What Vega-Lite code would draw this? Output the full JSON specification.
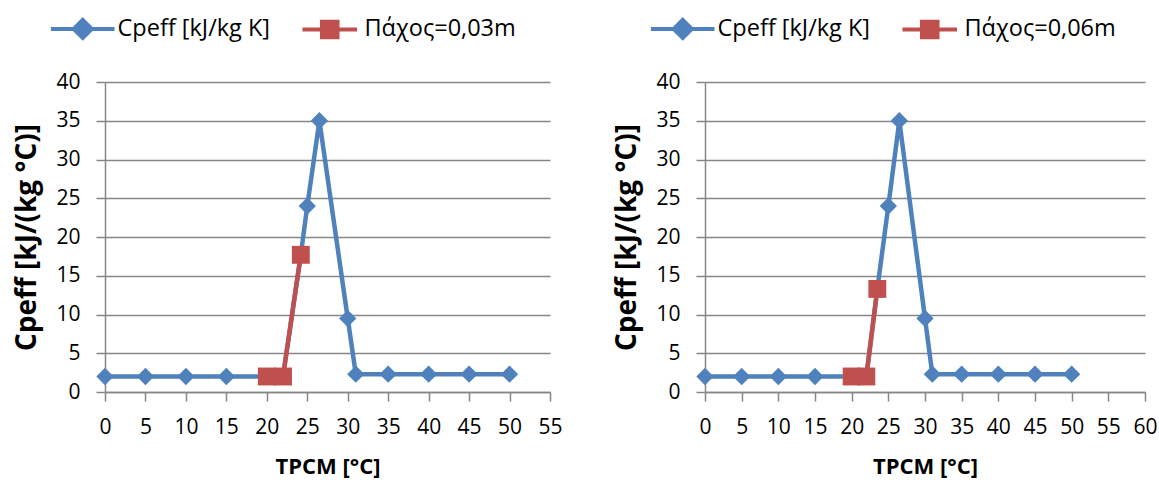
{
  "$schema": "https://vega.github.io/schema/vega-lite/v6.json",
  "background": "white",
  "padding": {"left": 13, "top": 17, "right": 2, "bottom": 5},
  "config": {
    "font": "Open Sans",
    "view": {"stroke": null},
    "axis": {"domainColor": "#868686", "domainWidth": 1.5, "tickColor": "#868686", "tickWidth": 1.5, "gridColor": "#868686", "gridWidth": 1.5, "labelColor": "#000", "labelFontSize": 21, "labelFont": "Open Sans", "labelOverlap": false, "labelFlush": false, "titleFont": "Open Sans", "titleFontWeight": "bold", "titleColor": "#000"},
    "axisX": {"grid": false, "tickSize": 9, "labelPadding": 15, "titlePadding": 19, "titleFontSize": 22},
    "axisY": {"tickSize": 9, "labelPadding": 16, "titlePadding": 14, "titleFontSize": 28}
  },
  "datasets": {
    "a": [
      {"series": "Cpeff [kJ/kg K]", "T": 0, "C": 2.0},
      {"series": "Cpeff [kJ/kg K]", "T": 5, "C": 2.0},
      {"series": "Cpeff [kJ/kg K]", "T": 10, "C": 2.0},
      {"series": "Cpeff [kJ/kg K]", "T": 15, "C": 2.0},
      {"series": "Cpeff [kJ/kg K]", "T": 20, "C": 2.0},
      {"series": "Cpeff [kJ/kg K]", "T": 22, "C": 2.0},
      {"series": "Cpeff [kJ/kg K]", "T": 24.2, "C": 17.7},
      {"series": "Cpeff [kJ/kg K]", "T": 25, "C": 24.0},
      {"series": "Cpeff [kJ/kg K]", "T": 26.5, "C": 35.0},
      {"series": "Cpeff [kJ/kg K]", "T": 30, "C": 9.5},
      {"series": "Cpeff [kJ/kg K]", "T": 31, "C": 2.3},
      {"series": "Cpeff [kJ/kg K]", "T": 35, "C": 2.3},
      {"series": "Cpeff [kJ/kg K]", "T": 40, "C": 2.3},
      {"series": "Cpeff [kJ/kg K]", "T": 45, "C": 2.3},
      {"series": "Cpeff [kJ/kg K]", "T": 50, "C": 2.3},
      {"series": "Πάχος=0,03m", "T": 20, "C": 2.0},
      {"series": "Πάχος=0,03m", "T": 22, "C": 2.0},
      {"series": "Πάχος=0,03m", "T": 24.2, "C": 17.7}
    ],
    "b": [
      {"series": "Cpeff [kJ/kg K]", "T": 0, "C": 2.0},
      {"series": "Cpeff [kJ/kg K]", "T": 5, "C": 2.0},
      {"series": "Cpeff [kJ/kg K]", "T": 10, "C": 2.0},
      {"series": "Cpeff [kJ/kg K]", "T": 15, "C": 2.0},
      {"series": "Cpeff [kJ/kg K]", "T": 20, "C": 2.0},
      {"series": "Cpeff [kJ/kg K]", "T": 22, "C": 2.0},
      {"series": "Cpeff [kJ/kg K]", "T": 23.5, "C": 13.3},
      {"series": "Cpeff [kJ/kg K]", "T": 25, "C": 24.0},
      {"series": "Cpeff [kJ/kg K]", "T": 26.5, "C": 35.0},
      {"series": "Cpeff [kJ/kg K]", "T": 30, "C": 9.5},
      {"series": "Cpeff [kJ/kg K]", "T": 31, "C": 2.3},
      {"series": "Cpeff [kJ/kg K]", "T": 35, "C": 2.3},
      {"series": "Cpeff [kJ/kg K]", "T": 40, "C": 2.3},
      {"series": "Cpeff [kJ/kg K]", "T": 45, "C": 2.3},
      {"series": "Cpeff [kJ/kg K]", "T": 50, "C": 2.3},
      {"series": "Πάχος=0,06m", "T": 20, "C": 2.0},
      {"series": "Πάχος=0,06m", "T": 22, "C": 2.0},
      {"series": "Πάχος=0,06m", "T": 23.5, "C": 13.3}
    ]
  },
  "bounds": "flush",
  "spacing": 155,
  "hconcat": [
    {
      "width": 445,
      "height": 310,
      "data": {"name": "a"},
      "encoding": {
        "x": {"field": "T", "type": "quantitative", "scale": {"domain": [0, 55], "nice": false}, "axis": {"values": [0, 5, 10, 15, 20, 25, 30, 35, 40, 45, 50, 55], "title": "TPCM [°C]"}},
        "y": {"field": "C", "type": "quantitative", "scale": {"domain": [0, 40], "nice": false}, "axis": {"values": [0, 5, 10, 15, 20, 25, 30, 35, 40], "title": "Cpeff [kJ/(kg °C)]"}}
      },
      "layer": [
        {
          "mark": {"type": "line", "strokeWidth": 4.5},
          "encoding": {
            "color": {"field": "series", "type": "nominal", "scale": {"domain": ["Cpeff [kJ/kg K]", "Πάχος=0,03m"], "range": ["#4F81BD", "#C0504D"]},
              "legend": {"orient": "none", "legendX": -57, "legendY": -65, "direction": "horizontal", "title": null, "labelFontSize": 23.5, "labelFont": "Open Sans", "labelColor": "#000", "labelLimit": 400, "symbolSize": 144, "symbolStrokeWidth": 4, "symbolOffset": 23, "labelOffset": 23, "columnPadding": 23,
                "encode": {"symbols": {"update": {
                  "shape": {"signal": "datum.value == 'Cpeff [kJ/kg K]' ? 'M-5.3,0H5.3M0,-1.5L1.5,0L0,1.5L-1.5,0Z' : 'M-4.55,0H4.55M-1.3,-1.3H1.3V1.3H-1.3Z'"},
                  "fill": {"signal": "datum.value == 'Cpeff [kJ/kg K]' ? '#4F81BD' : '#C0504D'"},
                  "stroke": {"signal": "datum.value == 'Cpeff [kJ/kg K]' ? '#4F81BD' : '#C0504D'"},
                  "strokeWidth": {"value": 4}
                }}}}}
          }
        },
        {
          "transform": [{"filter": "datum.series == 'Cpeff [kJ/kg K]'"}],
          "mark": {"type": "point", "filled": true, "opacity": 1, "size": 300, "shape": "diamond", "color": "#4F81BD"}
        },
        {
          "transform": [{"filter": "datum.series != 'Cpeff [kJ/kg K]'"}],
          "mark": {"type": "point", "filled": true, "opacity": 1, "size": 320, "shape": "square", "color": "#C0504D"}
        }
      ]
    },
    {
      "width": 440,
      "height": 310,
      "data": {"name": "b"},
      "encoding": {
        "x": {"field": "T", "type": "quantitative", "scale": {"domain": [0, 60], "nice": false}, "axis": {"values": [0, 5, 10, 15, 20, 25, 30, 35, 40, 45, 50, 55, 60], "title": "TPCM [°C]"}},
        "y": {"field": "C", "type": "quantitative", "scale": {"domain": [0, 40], "nice": false}, "axis": {"values": [0, 5, 10, 15, 20, 25, 30, 35, 40], "title": "Cpeff [kJ/(kg °C)]"}}
      },
      "layer": [
        {
          "mark": {"type": "line", "strokeWidth": 4.5},
          "encoding": {
            "color": {"field": "series", "type": "nominal", "scale": {"domain": ["Cpeff [kJ/kg K]", "Πάχος=0,06m"], "range": ["#4F81BD", "#C0504D"]},
              "legend": {"orient": "none", "legendX": -57, "legendY": -65, "direction": "horizontal", "title": null, "labelFontSize": 23.5, "labelFont": "Open Sans", "labelColor": "#000", "labelLimit": 400, "symbolSize": 144, "symbolStrokeWidth": 4, "symbolOffset": 23, "labelOffset": 23, "columnPadding": 23,
                "encode": {"symbols": {"update": {
                  "shape": {"signal": "datum.value == 'Cpeff [kJ/kg K]' ? 'M-5.3,0H5.3M0,-1.5L1.5,0L0,1.5L-1.5,0Z' : 'M-4.55,0H4.55M-1.3,-1.3H1.3V1.3H-1.3Z'"},
                  "fill": {"signal": "datum.value == 'Cpeff [kJ/kg K]' ? '#4F81BD' : '#C0504D'"},
                  "stroke": {"signal": "datum.value == 'Cpeff [kJ/kg K]' ? '#4F81BD' : '#C0504D'"},
                  "strokeWidth": {"value": 4}
                }}}}}
          }
        },
        {
          "transform": [{"filter": "datum.series == 'Cpeff [kJ/kg K]'"}],
          "mark": {"type": "point", "filled": true, "opacity": 1, "size": 300, "shape": "diamond", "color": "#4F81BD"}
        },
        {
          "transform": [{"filter": "datum.series != 'Cpeff [kJ/kg K]'"}],
          "mark": {"type": "point", "filled": true, "opacity": 1, "size": 320, "shape": "square", "color": "#C0504D"}
        }
      ]
    }
  ],
  "resolve": {"scale": {"color": "independent"}, "legend": {"color": "independent"}}
}
